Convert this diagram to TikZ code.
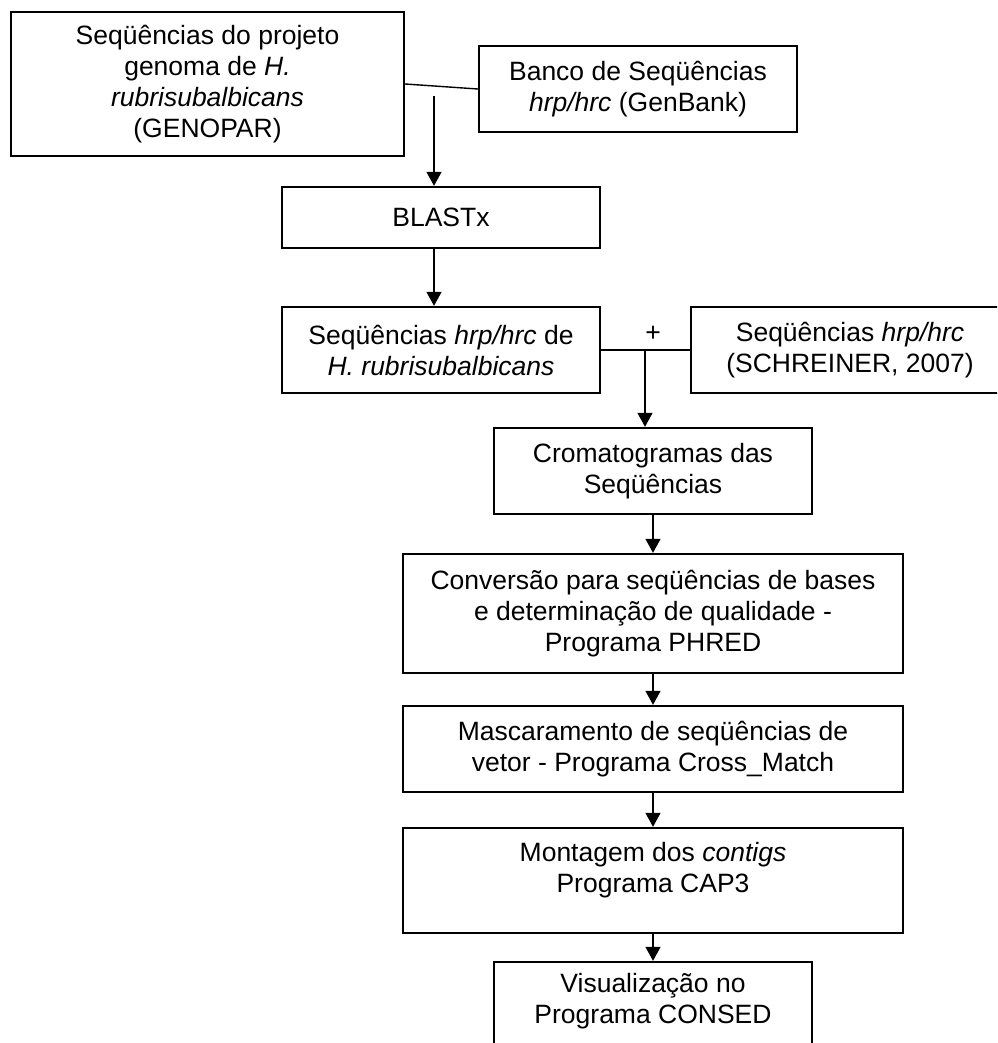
\documentclass[tikz,border=0pt]{standalone}
\usepackage{fontspec}
\setmainfont{Liberation Sans}
\usetikzlibrary{arrows.meta}
\begin{document}
\begin{tikzpicture}[x=1pt,y=-1pt,
  box/.style={draw, line width=2.4pt, rectangle, align=center, inner sep=0pt,
    font=\fontsize{26.5pt}{31pt}\selectfont},
  txt/.style={align=center, inner sep=0pt, font=\fontsize{26.5pt}{31pt}\selectfont},
  conn/.style={line width=1.4pt},
  arr/.style={line width=1.4pt, -{Triangle[width=15pt,length=14pt]}}]
\useasboundingbox (0,0) rectangle (997,1043);
\clip (0,0) rectangle (997,1043);

\node[box, minimum width=393pt, minimum height=144pt] (b1) at (207.5,84)
  {Seqüências do projeto\\genoma de \textit{H.}\\\textit{rubrisubalbicans}\\(GENOPAR)};
\node[box, minimum width=318pt, minimum height=86pt] (b2) at (638,89)
  {Banco de Seqüências\\\textit{hrp/hrc} (GenBank)};
\node[box, minimum width=318pt, minimum height=61pt] (b3) at (441,217.5) {BLASTx};
\node[box, minimum width=318pt, minimum height=86pt] (b4) at (441,350)
  {Seqüências \textit{hrp/hrc} de\\\textit{H. rubrisubalbicans}};
\node[box, minimum width=330pt, minimum height=86pt] (b5) at (856,350) {};
\node[txt] (t5) at (850,350) {Seqüências \textit{hrp/hrc}\\(SCHREINER, 2007)};
\node[box, minimum width=318pt, minimum height=86pt] (b6) at (653,471)
  {Cromatogramas das\\Seqüências};
\node[box, minimum width=500pt, minimum height=119pt] (b7) at (653,613.5)
  {Conversão para seqüências de bases\\e determinação de qualidade -\\Programa PHRED};
\node[box, minimum width=500pt, minimum height=86pt] (b8) at (653,749)
  {Mascaramento de seqüências de\\vetor - Programa Cross\_Match};
\node[box, minimum width=500pt, minimum height=105pt] (b9) at (653,880.5) {};
\node[txt] (t9) at (653,870.5) {Montagem dos \textit{contigs}\\Programa CAP3};
\node[box, minimum width=318pt, minimum height=120pt] (b10) at (653,1022) {};
\node[txt] (t10) at (653,1001.5) {Visualização no\\Programa CONSED};

\draw[conn] (b1.east) -- (b2.west);
\coordinate (s1) at (434,96);
\draw[arr] (s1) -- (s1 |- b3.north);
\draw[arr] (b3.south -| s1) -- (b4.north -| s1);
\draw[conn] (b4.east) -- (b5.west);
\node[txt] (plus) at (653,334) {+};
\coordinate (j) at (645,350);
\draw[arr] (j) -- (j |- b6.north);
\draw[arr] (b6.south) -- (b7.north);
\draw[arr] (b7.south) -- (b8.north);
\draw[arr] (b8.south) -- (b9.north);
\draw[arr] (b9.south) -- (b10.north);
\end{tikzpicture}
\end{document}
